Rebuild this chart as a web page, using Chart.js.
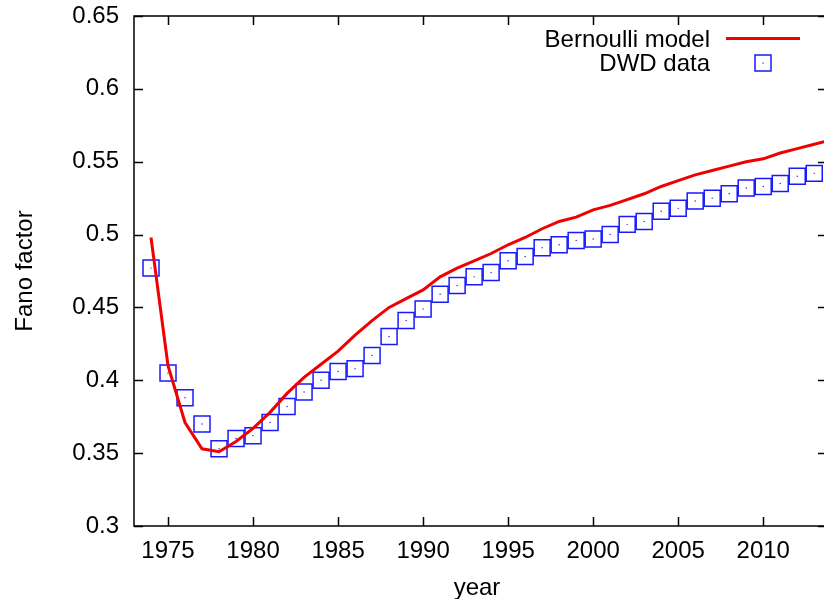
<!DOCTYPE html>
<html>
<head>
<meta charset="utf-8">
<script src="https://cdn.jsdelivr.net/npm/chart.js@4/dist/chart.umd.min.js"></script>
<style>
  html, body { margin: 0; padding: 0; background: #fff; overflow: hidden; }
  canvas { display: block; }
</style>
</head>
<body>
<canvas id="myChart" width="827" height="599"></canvas>
<script>
// DWD data, one value per year
const dataYears = [1974, 1975, 1976, 1977, 1978, 1979, 1980, 1981, 1982, 1983,
  1984, 1985, 1986, 1987, 1988, 1989, 1990, 1991, 1992, 1993,
  1994, 1995, 1996, 1997, 1998, 1999, 2000, 2001, 2002, 2003,
  2004, 2005, 2006, 2007, 2008, 2009, 2010, 2011, 2012, 2013];
const dwdValues = [0.477, 0.405, 0.388, 0.370, 0.353, 0.360, 0.362, 0.371, 0.382, 0.392,
  0.400, 0.406, 0.408, 0.417, 0.430, 0.441, 0.449, 0.459, 0.465, 0.471,
  0.474, 0.482, 0.485, 0.491, 0.493, 0.496, 0.497, 0.500, 0.507, 0.509,
  0.516, 0.518, 0.523, 0.525, 0.528, 0.532, 0.533, 0.535, 0.540, 0.542];

// Bernoulli model curve
const modelYears = [1974, 1975, 1976, 1977, 1978, 1979, 1980, 1981, 1982, 1983,
  1984, 1985, 1986, 1987, 1988, 1989, 1990, 1991, 1992, 1993,
  1994, 1995, 1996, 1997, 1998, 1999, 2000, 2001, 2002, 2003,
  2004, 2005, 2006, 2007, 2008, 2009, 2010, 2011, 2012, 2013, 2014];
const modelValues = [0.498, 0.410, 0.371, 0.353, 0.351, 0.358, 0.367, 0.378, 0.391, 0.402,
  0.411, 0.420, 0.431, 0.441, 0.450, 0.456, 0.462, 0.471, 0.477, 0.482,
  0.487, 0.493, 0.498, 0.504, 0.509, 0.512, 0.517, 0.520, 0.524, 0.528,
  0.533, 0.537, 0.541, 0.544, 0.547, 0.550, 0.552, 0.556, 0.559, 0.562, 0.565];

const xTicks = [1975, 1980, 1985, 1990, 1995, 2000, 2005, 2010];
const yTicks = [0.3, 0.35, 0.4, 0.45, 0.5, 0.55, 0.6, 0.65];

const FONT = "'Liberation Sans', Arial, Helvetica, sans-serif";
const FSIZE = 24;
const RED = "rgb(240,0,0)";
const BLUE = "rgb(25,25,255)";

let ctx = document.getElementById("myChart").getContext("2d");

// gnuplot style frame, inward ticks, key and axis titles
const framePlugin = {
  id: "frame",
  afterDraw(chart) {
    const c = chart.ctx;
    const a = chart.chartArea;
    const xs = chart.scales.x;
    const ys = chart.scales.y;
    c.save();
    c.strokeStyle = "#000";
    c.lineWidth = 1.5;
    c.strokeRect(a.left, a.top, a.right - a.left, a.bottom - a.top);
    c.beginPath();
    xTicks.forEach(function(v) {
      const px = Math.round(xs.getPixelForValue(v)) + 0.5;
      c.moveTo(px, a.bottom); c.lineTo(px, a.bottom - 9);
      c.moveTo(px, a.top); c.lineTo(px, a.top + 9);
    });
    yTicks.forEach(function(v) {
      const py = Math.round(ys.getPixelForValue(v)) + 0.5;
      c.moveTo(a.left, py); c.lineTo(a.left + 9, py);
      c.moveTo(a.right, py); c.lineTo(a.right - 9, py);
    });
    c.stroke();

    c.fillStyle = "#000";
    c.font = FSIZE + "px " + FONT;
    c.textBaseline = "middle";
    // key
    c.textAlign = "right";
    c.fillText("Bernoulli model", 710, 40);
    c.fillText("DWD data", 710, 64);
    c.strokeStyle = RED;
    c.lineWidth = 3;
    c.beginPath();
    c.moveTo(726, 38.5); c.lineTo(800, 38.5);
    c.stroke();
    c.strokeStyle = BLUE;
    c.lineWidth = 1.5;
    c.strokeRect(755, 55, 16, 16);
    c.fillStyle = BLUE;
    c.fillRect(762.5, 62.5, 1.2, 1.2);

    // axis titles
    c.fillStyle = "#000";
    c.textAlign = "center";
    c.fillText("year", 477, 588);
    c.translate(25, (a.top + a.bottom) / 2);
    c.rotate(-Math.PI / 2);
    c.fillText("Fano factor", 0, 0);
    c.restore();
  }
};

let chartData = {
  datasets: [
    {
      label: "Bernoulli model",
      data: modelYears.map(function(yr, i) { return { x: yr, y: modelValues[i] }; }),
      borderColor: RED,
      borderWidth: 3,
      pointRadius: 0,
      tension: 0,
      fill: false
    },
    {
      label: "DWD data",
      data: dataYears.map(function(yr, i) { return { x: yr, y: dwdValues[i] }; }),
      showLine: false,
      pointStyle: "rect",
      pointRadius: 11.3,
      borderColor: BLUE,
      borderWidth: 1.5,
      backgroundColor: "rgba(0,0,0,0)"
    },
    {
      label: "dots",
      data: dataYears.map(function(yr, i) { return { x: yr, y: dwdValues[i] }; }),
      showLine: false,
      pointStyle: "circle",
      pointRadius: 0.7,
      borderWidth: 0,
      backgroundColor: BLUE
    }
  ]
};

let chartOptions = {
  responsive: false,
  animation: false,
  layout: { autoPadding: false, padding: { top: 16, left: 0, right: 0, bottom: 0 } },
  plugins: {
    legend: { display: false },
    tooltip: { enabled: false }
  },
  scales: {
    x: {
      type: "linear",
      min: 1973,
      max: 2013.75,
      afterBuildTicks: function(scale) {
        scale.ticks = xTicks.map(function(v) { return { value: v }; });
      },
      afterFit: function(scale) {
        scale.height = 73;
        scale.paddingLeft = 0; scale.paddingRight = 0;
      },
      grid: { display: false, drawTicks: false },
      border: { display: false },
      ticks: {
        color: "#000",
        font: { family: FONT, size: FSIZE },
        padding: 11,
        maxRotation: 0,
        autoSkip: false,
        callback: function(v) { return String(v); }
      }
    },
    y: {
      type: "linear",
      min: 0.3,
      max: 0.65,
      afterBuildTicks: function(scale) {
        scale.ticks = yTicks.map(function(v) { return { value: v }; });
      },
      afterFit: function(scale) {
        scale.width = 134;
        scale.paddingTop = 0; scale.paddingBottom = 0;
      },
      grid: { display: false, drawTicks: false },
      border: { display: false },
      ticks: {
        color: "#000",
        font: { family: FONT, size: FSIZE },
        padding: 15,
        autoSkip: false,
        callback: function(v) { return String(+v.toFixed(2)); }
      }
    }
  }
};

let chart = new Chart(ctx, {
  type: "line",
  data: chartData,
  options: chartOptions,
  plugins: [framePlugin]
});
</script>
</body>
</html>
